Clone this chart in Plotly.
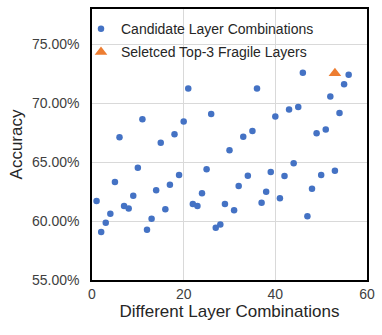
import plotly.graph_objects as go

# Data
combo_idx = list(range(1, 57))
accuracy = [61.70, 59.07, 59.86, 60.62, 63.32, 67.12, 61.27, 61.07, 62.16, 64.53,
            68.64, 59.27, 60.19, 62.62, 66.64, 61.01, 63.09, 67.37, 63.91, 68.45,
            71.26, 61.44, 61.27, 62.36, 64.39, 69.09, 59.43, 59.71, 61.46, 66.02,
            60.93, 62.98, 67.15, 63.85, 67.65, 71.26, 61.55, 62.50, 64.16, 68.87,
            61.94, 63.83, 69.46, 64.90, 69.68, 72.58, 60.42, 62.75, 67.46, 63.91,
            67.77, 70.58, 64.27, 69.17, 71.62, 72.42]
selected_idx = [53]
selected_acc = [72.55]

BLUE = "#4472C4"
ORANGE = "#ED7D31"
FONT = "Liberation Sans, Arial, sans-serif"

fig = go.Figure()
fig.add_trace(go.Scatter(
    x=combo_idx, y=accuracy, mode="markers",
    name="Candidate Layer Combinations",
    marker=dict(color=BLUE, size=6.5, symbol="circle"),
    legend="legend",
))
fig.add_trace(go.Scatter(
    x=selected_idx, y=selected_acc, mode="markers",
    name="Seletced Top-3 Fragile Layers",
    marker=dict(color=ORANGE, size=11, symbol="triangle-up"),
    legend="legend2",
))

axis_common = dict(
    showline=True, linecolor="black", linewidth=1.5, mirror=True,
    showgrid=True, gridcolor="#d9d9d9", gridwidth=1,
    zeroline=False, ticks="",
    tickfont=dict(family=FONT, size=14, color="#404040"),
)

legend_common = dict(
    bgcolor="rgba(0,0,0,0)", borderwidth=0,
    font=dict(family=FONT, size=14, color="#262626"),
    xanchor="left", yanchor="middle",
    itemwidth=30,
)

fig.update_layout(
    width=382, height=335,
    margin=dict(l=92, r=7, t=7, b=55),
    paper_bgcolor="white", plot_bgcolor="white",
    font=dict(family=FONT, color="#262626"),
    xaxis=dict(
        **axis_common,
        range=[0, 60], tick0=0, dtick=20,
        ticklabelstandoff=0,
        title=dict(text="Different Layer Combinations",
                   font=dict(family=FONT, size=17, color="#262626"),
                   standoff=4),
    ),
    yaxis=dict(
        **axis_common,
        range=[55, 78], tick0=55, dtick=5,
        tickformat=".2f", ticksuffix="%",
        ticklabelstandoff=8,
        title=dict(text="Accuracy",
                   font=dict(family=FONT, size=17, color="#262626"),
                   standoff=5),
    ),
    legend=dict(**legend_common, x=-0.04, y=0.926),
    legend2=dict(**legend_common, x=-0.04, y=0.84),
    showlegend=True,
)

fig.write_html("out.html")
